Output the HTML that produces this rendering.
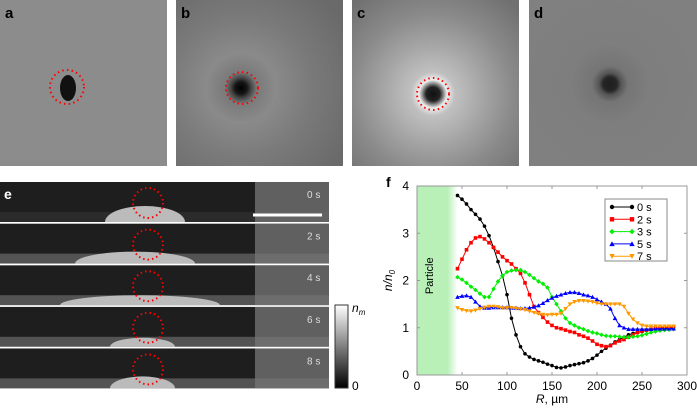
<!DOCTYPE html>
<html><head><meta charset="utf-8"><style>
body{margin:0;width:697px;height:409px;background:#fff;overflow:hidden;font-family:"Liberation Sans",sans-serif;position:relative}
.img{position:absolute;top:0;height:166px;width:167px}
</style></head><body>
<div class="img" style="left:0;background:#8c8c8c"></div>
<div class="img" style="left:176px;background:radial-gradient(circle at 65px 88px,#000 0,#151515 6px,#444 10px,#7a7a7a 16px,#8a8a8a 35px,#7a7a7a 70px,#6a6a6a 120px)"></div>
<div class="img" style="left:352px;background:radial-gradient(circle at 81px 94px,#111 0,#222 7px,#eee 14px,#c0c0c0 22px,#a5a5a5 50px,#8a8a8a 80px,#707070 120px)"></div>
<div class="img" style="left:529px;width:168px;background:radial-gradient(circle at 81px 84px,#1e1e1e 0,#262626 7px,#555 11px,#757575 18px,#7e7e7e 40px,#808080 100px)"></div>
<svg width="697" height="409" style="position:absolute;left:0;top:0">
<ellipse cx="68" cy="88" rx="8" ry="13" fill="#111"/>
<g fill="none" stroke="#f00" stroke-width="2" stroke-dasharray="1.5 3.2">
<circle cx="67" cy="87" r="17"/>
<circle cx="242" cy="88" r="16"/>
<circle cx="433" cy="94" r="16"/>
</g>
<text x="5" y="18" font-size="15" font-weight="bold">a</text>
<text x="181" y="18" font-size="15" font-weight="bold">b</text>
<text x="357" y="18" font-size="15" font-weight="bold">c</text>
<text x="534" y="18" font-size="15" font-weight="bold">d</text>
<g id="strips"></g>
<defs><linearGradient id="cb" x1="0" y1="1" x2="0" y2="0"><stop offset="0" stop-color="#000"/><stop offset="1" stop-color="#fff"/></linearGradient>
<linearGradient id="pg" x1="0" x2="1"><stop offset="0" stop-color="#b8f0b8"/><stop offset=".75" stop-color="#b8f0b8"/><stop offset="1" stop-color="#fff"/></linearGradient></defs>
<rect x="335" y="305" width="13" height="83" fill="url(#cb)" stroke="#333" stroke-width="1"/>
<text x="352" y="312" font-size="12" font-style="italic">n<tspan font-size="8" dy="3">m</tspan></text>
<text x="352" y="390" font-size="12">0</text>
<text x="4" y="199" font-size="14" font-weight="bold" fill="#fff">e</text>
<line x1="253" y1="215" x2="322" y2="215" stroke="#fff" stroke-width="3"/>
<g id="chart"></g>
</svg>
<script>
const ns="http://www.w3.org/2000/svg";
function mk(t,a,p){const e=document.createElementNS(ns,t);for(const k in a)e.setAttribute(k,a[k]);p.appendChild(e);return e;}
const strips=document.getElementById('strips');
const defs=document.querySelector('defs');
const times=["0 s","2 s","4 s","6 s","8 s"];
const bulge=[[105,185,16],[75,195,12],[60,220,10],[110,175,9],[110,175,12]];
times.forEach((t,i)=>{const y=182+i*41.6;
const cp=mk('clipPath',{id:'cp'+i},defs);mk('rect',{x:0,y:y,width:329,height:40},cp);
const g=mk('g',{'clip-path':'url(#cp'+i+')'},strips);


mk('rect',{x:0,y:y,width:329,height:40,fill:'#1e1e1e'},g);
mk('rect',{x:255,y:y,width:74,height:40,fill:'#777','fill-opacity':0.75},g);
mk('rect',{x:0,y:y+30,width:329,height:10,fill:'#777','fill-opacity':i?0.6:0.15},g);
const b=bulge[i];mk('ellipse',{cx:(b[0]+b[1])/2,cy:y+40,rx:(b[1]-b[0])/2,ry:b[2],fill:'#bbb'},g);
mk('circle',{cx:148,cy:y+21,r:15,fill:'none',stroke:'#f00','stroke-width':2,'stroke-dasharray':'1.5 3'},g);
const tx=mk('text',{x:307,y:y+16,'font-size':10,fill:'#ddd'},g);tx.textContent=t;
});
const R=[45,50,55,60,65,70,75,80,85,90,95,100,105,110,115,120,125,130,135,140,145,150,155,160,165,170,175,180,185,190,195,200,205,210,215,220,225,230,235,240,245,250,255,260,265,270,275,280,285];
const s0=[3.8,3.72,3.62,3.5,3.4,3.3,3.15,2.95,2.7,2.4,2.1,1.7,1.2,0.85,0.6,0.45,0.38,0.33,0.3,0.27,0.23,0.2,0.16,0.15,0.17,0.2,0.22,0.24,0.26,0.3,0.35,0.42,0.5,0.57,0.63,0.7,0.75,0.8,0.85,0.88,0.9,0.92,0.95,0.96,0.97,0.98,0.98,0.99,1.0];
const s2=[2.25,2.45,2.65,2.8,2.9,2.93,2.88,2.8,2.7,2.6,2.5,2.42,2.35,2.25,2.15,1.95,1.7,1.45,1.32,1.22,1.12,1.05,1.0,0.98,0.95,0.92,0.9,0.85,0.82,0.78,0.72,0.65,0.62,0.6,0.62,0.68,0.72,0.75,0.8,0.85,0.9,0.93,0.95,0.97,0.98,1.0,1.0,1.02,1.03];
const s3=[2.07,2.02,1.95,1.87,1.8,1.72,1.65,1.65,1.82,1.98,2.1,2.18,2.21,2.22,2.22,2.18,2.12,2.05,1.98,1.93,1.85,1.65,1.5,1.35,1.2,1.1,1.05,1.0,0.97,0.93,0.9,0.88,0.85,0.83,0.82,0.82,0.81,0.8,0.8,0.81,0.82,0.84,0.87,0.9,0.92,0.94,0.95,0.96,0.97];
const s5=[1.65,1.67,1.68,1.65,1.55,1.45,1.42,1.42,1.43,1.43,1.43,1.43,1.42,1.42,1.41,1.41,1.42,1.44,1.47,1.52,1.58,1.63,1.67,1.7,1.73,1.75,1.75,1.73,1.7,1.68,1.65,1.6,1.55,1.5,1.4,1.2,1.05,1.0,0.97,0.97,0.97,0.97,0.97,0.97,0.98,0.98,0.98,0.98,0.98];
const s7=[1.42,1.38,1.36,1.35,1.37,1.4,1.43,1.45,1.45,1.44,1.42,1.42,1.42,1.41,1.4,1.38,1.35,1.32,1.3,1.28,1.27,1.28,1.28,1.3,1.4,1.5,1.55,1.57,1.57,1.56,1.55,1.52,1.5,1.5,1.5,1.5,1.5,1.45,1.3,1.18,1.1,1.05,1.03,1.03,1.03,1.03,1.03,1.03,1.03];
const seriesNames=["0 s","2 s","3 s","5 s","7 s"];
const xTicks=[0,50,100,150,200,250,300];
const yTicks=[0,1,2,3,4];
const colors=["#000","#f00","#0e0","#00f","#f90"];
const series=[s0,s2,s3,s5,s7];
const X=v=>417+v*0.9, Y=v=>375-v*47.25;
const c=document.getElementById('chart');
const pr=mk('rect',{x:X(0),y:Y(4),width:X(45)-X(0),height:Y(0)-Y(4),fill:'url(#pg)'},c);

const pt=mk('text',{x:0,y:0,'font-size':11,transform:`translate(${X(18)},${Y(2.1)}) rotate(-90)`,'text-anchor':'middle'},c);pt.textContent='Particle';

const fr=mk('rect',{x:X(0),y:Y(4),width:X(300)-X(0),height:Y(0)-Y(4),fill:'none',stroke:'#999','stroke-width':1},c);

xTicks.forEach(v=>{mk('line',{x1:X(v),x2:X(v),y1:Y(0),y2:Y(0)-3,stroke:'#999'},c);mk('line',{x1:X(v),x2:X(v),y1:Y(4),y2:Y(4)+3,stroke:'#999'},c);
const t=mk('text',{x:X(v),y:Y(0)+15,'font-size':12,'text-anchor':'middle'},c);t.textContent=v;
});
yTicks.forEach(v=>{mk('line',{x1:X(0),x2:X(0)+3,y1:Y(v),y2:Y(v),stroke:'#999'},c);mk('line',{x1:X(300),x2:X(300)-3,y1:Y(v),y2:Y(v),stroke:'#999'},c);
const t=mk('text',{x:X(0)-8,y:Y(v)+4,'font-size':12,'text-anchor':'end'},c);t.textContent=v;
});
const xt=mk('text',{x:X(150),y:403,'font-size':12,'text-anchor':'middle'},c);xt.innerHTML='<tspan font-style="italic">R</tspan>, µm';

const yt=mk('text',{x:0,y:0,'font-size':12,transform:`translate(${X(0)-25},${Y(2)}) rotate(-90)`,'text-anchor':'middle','font-style':'italic'},c);yt.innerHTML='n/n<tspan font-size="8" dy="3">0</tspan>';

const fl=mk('text',{x:386,y:187,'font-size':14,'font-weight':'bold'},c);fl.textContent='f';

function marker(g,x,y,i,s){s=s||2;
 if(i==0)mk('circle',{cx:x,cy:y,r:s,fill:colors[i]},g);
 else if(i==1)mk('rect',{x:x-s,y:y-s,width:2*s,height:2*s,fill:colors[i]},g);
 else if(i==2)mk('polygon',{points:`${x},${y-s-.5} ${x+s+.5},${y} ${x},${y+s+.5} ${x-s-.5},${y}`,fill:colors[i]},g);
 else if(i==3)mk('polygon',{points:`${x},${y-s-.5} ${x+s+.5},${y+s} ${x-s-.5},${y+s}`,fill:colors[i]},g);
 else mk('polygon',{points:`${x},${y+s+.5} ${x+s+.5},${y-s} ${x-s-.5},${y-s}`,fill:colors[i]},g);}
series.forEach((s,i)=>{const g=mk('g',{},c);


mk('polyline',{points:s.map((v,j)=>X(R[j])+','+Y(v)).join(' '),fill:'none',stroke:colors[i],'stroke-width':1},g);
s.forEach((v,j)=>marker(g,X(R[j]),Y(v),i,1.8));});
const lg=mk('g',{},c);
mk('rect',{x:605,y:199,width:62,height:62,fill:'#fff',stroke:'#888'},lg);
seriesNames.forEach((n,i)=>{const y=207+i*12.3;const e=mk('g',{},lg);

mk('line',{x1:612,x2:632,y1:y,y2:y,stroke:colors[i]},e);marker(e,612,y,i,2.2);marker(e,632,y,i,2.2);
const t=mk('text',{x:637,y:y+4,'font-size':11},e);t.textContent=n;});
</script>
</body></html>
